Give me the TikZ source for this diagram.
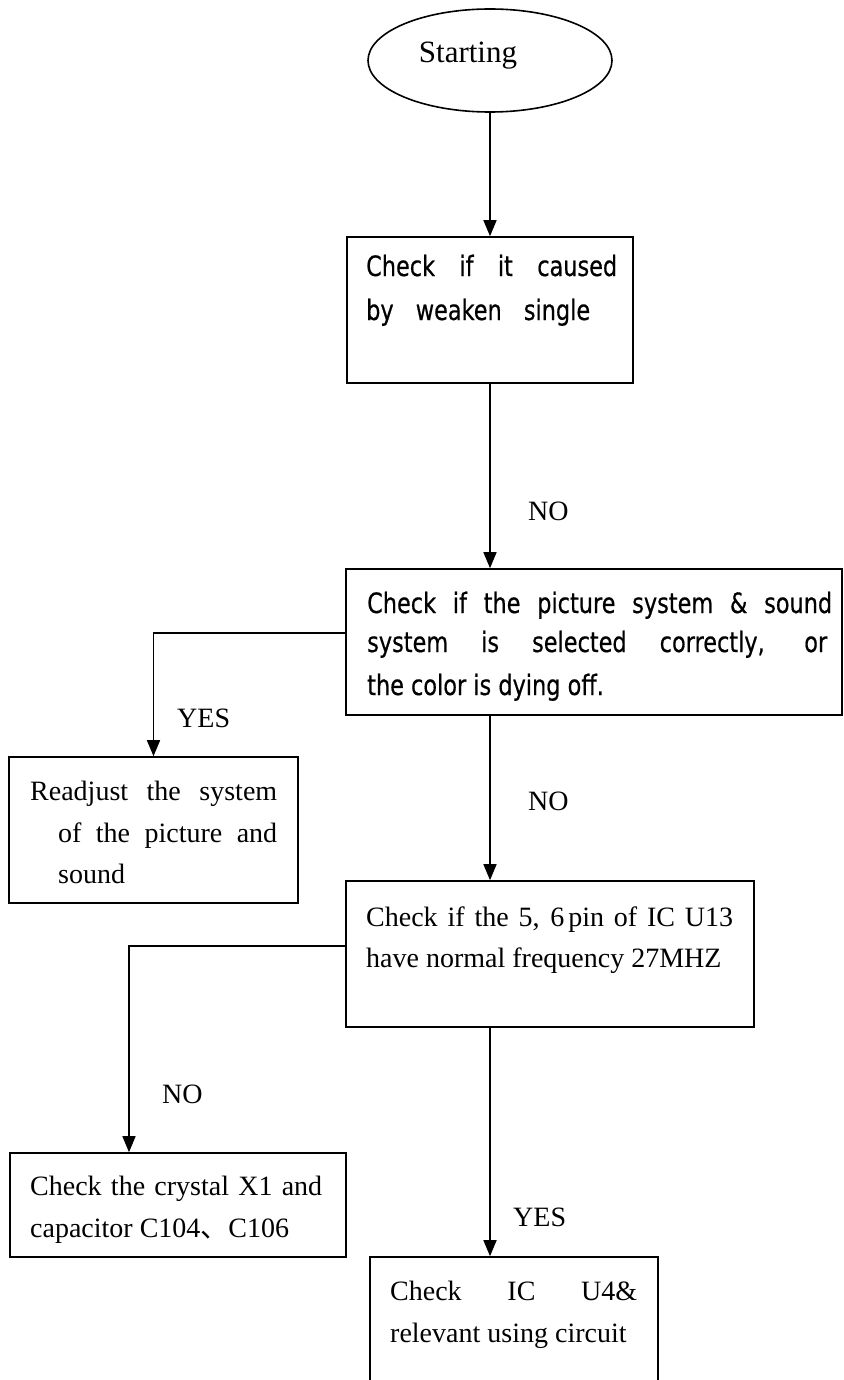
\documentclass[tikz,border=0pt]{standalone}
\usepackage{fontspec}
\setmainfont{Liberation Serif}
\newfontfamily\boxsans[FakeStretch=0.8,FakeBold=0.5]{DejaVu Sans}
\newfontfamily\cjkfont{Noto Sans CJK SC}
\usetikzlibrary{arrows.meta,shapes.geometric,calc}
\begin{document}
\begin{tikzpicture}[x=1pt,y=-1pt,
  boxnode/.style={draw, rectangle, inner sep=0pt, line width=1.6pt},
  flow/.style={-{Triangle[width=13pt,length=16pt]}, line width=1.6pt},
  serif/.style={inner sep=0pt, anchor=base west, font=\fontsize{28}{28}\selectfont},
  sans/.style={inner sep=0pt, anchor=base west, font=\boxsans\fontsize{28}{28}\selectfont}]
\useasboundingbox (0,0) rectangle (843,1380);
\clip (0,0) rectangle (843,1380);

% shapes
\node[boxnode, ellipse, minimum width=244pt, minimum height=103pt] (E) at (490,60.5) {};
\node[inner sep=0pt, anchor=base, font=\fontsize{31}{31}\selectfont] (Et) at (468,63) {Starting};

\node[boxnode, minimum width=286pt, minimum height=146pt] (B1) at (490,310) {};
\node[boxnode, minimum width=496pt, minimum height=146pt] (B2) at (594,642) {};
\node[boxnode, minimum width=289pt, minimum height=146pt] (B3) at (153.5,830) {};
\node[boxnode, minimum width=408pt, minimum height=146pt] (B4) at (550,954) {};
\node[boxnode, minimum width=336pt, minimum height=104pt] (B5) at (178,1205) {};
\node[boxnode, minimum width=288pt, minimum height=146pt] (B6) at (514,1330) {};

% texts
\node[sans] (t11) at (366,276) {\makebox[251pt][s]{Check if it caused}};
\node[sans] (t12) at (366,320) {\makebox[224pt][s]{by weaken single}};

\node[sans] (t21) at (367,613) {\makebox[465pt][s]{Check if the picture system \& sound}};
\node[sans] (t22) at (367,652) {\makebox[460pt][s]{system is selected correctly, or}};
\node[sans] (t23) at (367,695) {the color is dying off.};

\node[serif] (t31) at (30,800) {\makebox[247pt][s]{Readjust the system}};
\node[serif] (t32) at (58,842) {\makebox[219pt][s]{of the picture and}};
\node[serif] (t33) at (58,883) {sound};

\node[serif] (t41) at (366,926) {\makebox[367pt][s]{Check if the 5, 6\kern4pt pin of IC U13}};
\node[serif] (t42) at (366,967) {have normal frequency 27MHZ};

\node[serif] (t51) at (30,1195) {\makebox[292pt][s]{Check the crystal X1 and}};
\node[serif] (t52) at (30,1237) {capacitor C104{\cjkfont 、}C106};

\node[serif] (t61) at (390,1300) {\makebox[247pt][s]{Check IC U4\&}};
\node[serif] (t62) at (390,1342) {relevant using circuit};

% labels
\node[serif] (l1) at (528,520) {NO};
\node[serif] (l2) at (528,810) {NO};
\node[serif] (l3) at (177,727) {YES};
\node[serif] (l4) at (162,1103) {NO};
\node[serif] (l5) at (513,1226) {YES};

% connectors
\draw[flow] (E.south) -- (B1.north);
\draw[flow] (B1.south) -- (B1.south |- B2.north);
\draw[flow] ($(B2.north west)!0.438!(B2.south west)$) -| (B3.north);
\draw[flow] (B1.south |- B2.south) -- (B1.south |- B4.north);
\draw[flow] ($(B4.north west)!0.445!(B4.south west)$) -| ([xshift=-49pt]B5.north);
\draw[flow] (B1.south |- B4.south) -- (B1.south |- B6.north);
\end{tikzpicture}
\end{document}
